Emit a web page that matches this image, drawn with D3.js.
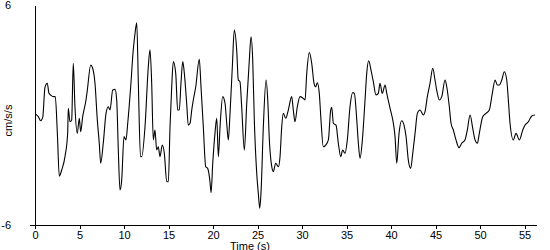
<!doctype html>
<html>
<head>
<script src="https://d3js.org/d3.v7.min.js"></script>
<style>
  body { margin: 0; background: #fff; }
  svg { display: block; font-family: "Liberation Sans", Arial, sans-serif; }
  .axis path, .axis line { stroke: #000; fill: none; shape-rendering: crispEdges; }
  .axis text { font-size: 11px; fill: #000; }
</style>
</head>
<body>
<script>
// time (s) and acceleration (cm/s/s)
var times = [0.08,0.37,0.64,0.87,1.12,1.38,1.57,1.76,2.06,2.28,2.51,2.73,3.00,3.37,3.67,3.74,3.93,4.12,4.30,4.49,
  4.75,4.98,5.13,5.36,5.73,5.88,6.26,6.48,6.74,7.00,7.22,7.38,7.67,7.98,8.24,8.43,8.73,8.99,9.18,9.36,
  9.55,9.74,10.00,10.22,10.42,10.75,11.04,11.24,11.43,11.61,11.85,11.99,12.36,12.73,12.92,13.11,13.29,13.48,13.67,13.85,
  14.04,14.30,14.53,14.80,14.98,15.17,15.36,15.54,15.81,16.03,16.21,16.40,16.60,16.78,17.04,17.22,17.42,17.61,17.79,18.06,
  18.46,18.65,18.91,19.18,19.40,19.66,19.78,19.97,20.22,20.42,20.60,20.79,21.09,21.35,21.54,21.72,21.91,22.17,22.39,22.66,
  22.84,23.03,23.22,23.52,23.79,24.08,24.27,24.46,24.64,24.91,25.09,25.25,25.39,25.65,25.96,26.15,26.33,26.60,26.78,27.04,
  27.34,27.53,27.72,27.90,28.17,28.46,28.84,29.02,29.21,29.47,29.78,30.15,30.34,30.53,30.82,31.09,31.35,31.54,31.72,31.94,
  32.13,32.39,32.66,32.96,33.22,33.34,33.52,33.82,34.08,34.35,34.57,34.83,35.09,35.39,35.70,35.88,36.15,36.33,36.52,36.78,
  37.08,37.27,37.49,37.75,38.01,38.31,38.57,38.76,39.02,39.33,39.52,39.89,40.26,40.45,40.64,40.90,41.20,41.46,41.69,41.94,
  42.21,42.44,42.70,42.96,43.26,43.63,43.82,44.08,44.38,44.69,44.94,45.13,45.43,45.70,46.07,46.26,46.55,46.74,47.00,47.30,
  47.64,47.94,48.31,48.57,48.88,49.18,49.44,49.70,49.92,50.30,50.67,51.04,51.38,51.69,51.94,52.17,52.44,52.73,53.00,53.18,
  53.37,53.74,54.04,54.42,54.80,55.06,55.43,55.81,56.18];
var accel = [0.05,-0.09,-0.31,-0.13,1.51,1.73,1.18,1.09,1.00,1.00,-0.98,-3.33,-3.00,-2.27,-0.98,0.37,-0.37,-0.27,2.82,0.45,
  -1.00,-0.18,-0.91,-0.09,0.82,1.36,2.73,2.55,1.73,-0.27,-1.54,-2.63,-1.54,0.09,0.45,0.27,1.36,1.40,0.82,-1.91,
  -4.09,-3.55,-1.18,-1.36,-0.44,1.54,3.55,4.46,5.03,1.75,-2.27,-2.27,-0.64,2.63,3.55,1.73,-1.36,-0.82,-1.91,-1.73,
  -2.27,-1.64,-2.09,-3.64,-3.64,-0.64,1.54,2.91,2.27,0.27,0.27,1.73,2.91,2.27,0.64,-0.55,-0.45,0.27,0.82,1.54,
  3.04,1.54,-0.64,-2.82,-2.91,-3.64,-4.24,-2.63,-1.00,-0.18,-2.27,-0.64,1.00,0.64,-0.45,-1.36,0.09,2.63,4.64,3.55,
  1.91,1.82,0.45,-1.91,0.64,3.00,4.27,3.00,-0.27,-3.18,-4.27,-5.09,-4.27,-0.70,1.91,0.82,-1.36,-2.82,-3.09,-2.63,
  -2.82,-2.27,-0.64,0.09,-0.18,0.27,1.00,0.27,-0.37,0.45,1.00,0.91,0.82,2.27,3.40,2.82,1.73,1.54,1.76,1.18,
  -0.27,-1.73,-1.64,-1.36,0.27,0.42,-0.45,-0.55,-1.54,-2.27,-1.91,-2.09,-1.36,0.45,1.22,1.18,-0.27,-1.54,-2.36,-1.36,
  0.82,2.27,2.96,2.45,1.82,1.09,1.18,1.73,1.18,1.64,1.18,0.37,-0.45,-1.18,-2.63,-1.00,-0.31,-0.55,-1.18,-2.45,
  -2.91,-2.09,-1.00,0.09,0.27,0.00,0.18,1.00,1.73,2.55,1.91,1.36,0.82,1.00,1.91,1.54,0.45,-0.45,-0.82,-1.36,
  -1.78,-1.54,-1.36,-0.82,0.00,-0.73,-1.36,-1.54,-1.00,-0.09,0.09,0.27,1.18,1.91,1.64,1.64,1.91,2.36,1.91,0.82,
  -0.45,-1.36,-1.00,-1.36,-0.82,-0.55,-0.37,-0.05,0.00];
var xTicks = [0,5,10,15,20,25,30,35,40,45,50,55];
var yTicks = [-6, 6];

var width = 550, height = 250;
var margin = {top: 5, right: 13, bottom: 25, left: 35};

var svg = d3.select("body").append("svg").attr("width", width).attr("height", height);

var x = d3.scaleLinear().domain([0, 56.4]).range([margin.left, width - margin.right]);
var y = d3.scaleLinear().domain([-6, 6]).range([height - margin.bottom, margin.top]);

var data = times.map(function(t, i) { return {t: t, v: accel[i]}; });

// x axis
var gx = svg.append("g").attr("class", "axis")
  .attr("transform", "translate(0," + y(-6) + ")")
  .call(d3.axisBottom(x).tickValues(xTicks).tickSize(4).tickSizeOuter(0).tickPadding(2));
gx.select(".domain").remove();
gx.append("line").attr("x1", x(0) - 5).attr("x2", x(56.4)).attr("y1", 0).attr("y2", 0);

// y axis, labels sit near the left edge
var gy = svg.append("g").attr("class", "axis")
  .attr("transform", "translate(" + x(0) + ",0)")
  .call(d3.axisLeft(y).tickValues(yTicks).tickSize(0).tickSizeOuter(0).tickPadding(24)
    .tickFormat(function(d) { return d < 0 ? "-" + Math.abs(d) : String(d); }));

svg.append("text")
  .attr("transform", "translate(12," + y(-0.3) + ") rotate(-90)")
  .attr("text-anchor", "middle")
  .style("font-size", "11px")
  .text("cm/s/s");

svg.append("text")
  .attr("x", 250).attr("y", 249.5)
  .attr("text-anchor", "middle")
  .style("font-size", "11px")
  .text("Time (s)");

var line = d3.line().curve(d3.curveMonotoneX)
  .x(function(d) { return x(d.t); }).y(function(d) { return y(d.v); });

svg.append("path").datum(data)
  .attr("d", line)
  .attr("fill", "none")
  .attr("stroke", "#000")
  .attr("stroke-width", 1.1);
</script>
</body>
</html>
